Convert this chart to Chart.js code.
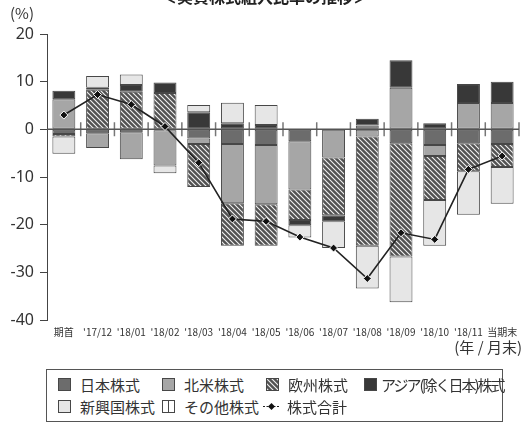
<!DOCTYPE html>
<html>
<head>
<meta charset="utf-8">
<script src="https://cdn.jsdelivr.net/npm/chart.js@4.4.1/dist/chart.umd.min.js"></script>
<style>
  body { margin: 0; background: #fff; font-family: "Noto Sans CJK JP", "Noto Sans", sans-serif; color: #333; }
  #wrap { position: relative; width: 530px; height: 422px; overflow: hidden; }
  #box { position: absolute; left: 0; top: 0; width: 530px; height: 368px; }
  .txt { position: absolute; white-space: nowrap; line-height: 1; }
  #title { left: 0; width: 530px; text-align: center; top: -12px; font-size: 16px; font-weight: bold; color: #222; }
  #unitY { left: 10px; top: 5px; font-size: 15px; }
  #unitX { right: 8px; top: 339px; font-size: 15px; }
  #legend { position: absolute; left: 46px; top: 369px; width: 455px; height: 51px; border: 1px solid #555; }
  .item { position: absolute; display: flex; align-items: center; font-size: 15px; line-height: 1; white-space: nowrap; }
  .item canvas { margin-right: 9px; flex: none; }
</style>
</head>
<body>
<div id="wrap">
  <div id="box"><canvas id="grafico"></canvas></div>
  <div class="txt" id="title">＜実質株式組入比率の推移＞</div>
  <div class="txt" id="unitY">(%)</div>
  <div class="txt" id="unitX">(年 / 月末)</div>
  <div id="legend"></div>
</div>
<script>
const meses = ['期首', "'17/12", "'18/01", "'18/02", "'18/03", "'18/04", "'18/05",
    "'18/06", "'18/07", "'18/08", "'18/09", "'18/10", "'18/11", '当期末'];

const nomes = ['日本株式', '北米株式', '欧州株式', 'アジア(除く日本)株式', '新興国株式', 'その他株式', '株式合計'];

const japao    = [-1.0, -0.8, -0.6, -0.2, -1.9, -3.1, -3.3, -2.5,   0.0,   0.8, -2.9, -3.3, -2.9, -3.1];
const americas = [ 6.3, -3.1, -5.7, -7.4, -1.2, -12.4, -12.4, -10.1, -5.9, -1.5,  8.7, -2.3,  5.5,  5.5];
const europa   = [-0.5,  8.3,  7.9,  7.6, -9.0, -8.9, -8.7, -6.4, -12.1, -22.9, -23.8, -9.2, -5.9, -4.8];
const asia     = [ 1.8,  0.4,  1.4,  2.2,  3.6,  1.3,  0.9, -1.1,  -1.3,   1.4,  5.8,  1.3,  4.0,  4.5];
const emergentes = [-3.6, 2.5,  2.2, -1.6,  1.5,  4.3,  4.2, -2.6,  -5.6,  -9.0, -9.6, -9.6, -9.1, -7.7];
const outros   = [ 0, 0, 0, 0, 0, 0, 0, 0, 0, 0, 0, 0, 0, 0];
const total    = [ 3.0, 7.3, 5.2, 0.6, -7.0, -18.8, -19.3, -22.6, -24.9, -31.3, -21.7, -23.1, -8.4, -5.6];

const ticksY = [20, 10, 0, -10, -20, -30, -40];

// hachura diagonal do 欧州株式
function hachura() {
    const c = document.createElement('canvas');
    c.width = 5; c.height = 5;
    const g = c.getContext('2d');
    g.fillStyle = '#525252';
    g.fillRect(0, 0, 5, 5);
    g.strokeStyle = '#f2f2f2';
    g.lineWidth = 1.1;
    g.beginPath();
    g.moveTo(0, 0); g.lineTo(5, 5);
    g.moveTo(4, -1); g.lineTo(6, 1);
    g.moveTo(-1, 4); g.lineTo(1, 6);
    g.stroke();
    return g.createPattern(c, 'repeat');
}

const padraoEuropa = hachura();
const contorno = '#474747';

function barra(label, dados, cor) {
    return {
        type: 'bar',
        label: label,
        data: dados,
        backgroundColor: cor,
        borderColor: contorno,
        borderWidth: 1,
        borderSkipped: false,
        stack: 'acoes',
        order: 1,
        barPercentage: 0.68,
        categoryPercentage: 1.0
    };
}

const data = {
    labels: meses,
    datasets: [
        barra(nomes[0], japao, '#6c6c6c'),
        barra(nomes[1], americas, '#a6a6a6'),
        barra(nomes[2], europa, padraoEuropa),
        barra(nomes[3], asia, '#383838'),
        barra(nomes[4], emergentes, '#e6e6e6'),
        barra(nomes[5], outros, '#ffffff'),
        {
            type: 'line',
            label: nomes[6],
            data: total,
            stack: 'total',
            order: 0,
            borderColor: '#222',
            borderWidth: 1.6,
            pointStyle: 'rectRot',
            pointRadius: 4,
            pointBackgroundColor: '#111',
            pointBorderColor: '#fff',
            pointBorderWidth: 1,
            tension: 0
        }
    ]
};

// linha do zero com marcas entre as categorias
const linhaZero = {
    id: 'linhaZero',
    beforeDatasetsDraw(chart) {
        const ctx = chart.ctx;
        const area = chart.chartArea;
        const x = chart.scales.x;
        const y0 = chart.scales.y.getPixelForValue(0);
        ctx.save();
        ctx.strokeStyle = '#777';
        ctx.lineWidth = 1.5;
        ctx.beginPath();
        for (let i = 1; i <= meses.length; i++) {
            const px = i < meses.length
                ? (x.getPixelForValue(i - 1) + x.getPixelForValue(i)) / 2
                : area.right;
            ctx.moveTo(px, y0 - 7);
            ctx.lineTo(px, y0 + 7);
        }
        ctx.stroke();
        ctx.strokeStyle = '#555';
        ctx.lineWidth = 1.5;
        ctx.beginPath();
        ctx.moveTo(area.left, y0);
        ctx.lineTo(area.right, y0);
        ctx.stroke();
        ctx.restore();
    }
};

const config = {
    data: data,
    options: {
        responsive: true,
        maintainAspectRatio: false,
        animation: false,
        layout: { padding: { top: 34, right: 11, left: 0, bottom: 0 } },
        plugins: {
            legend: { display: false },
            tooltip: { enabled: false }
        },
        scales: {
            x: {
                stacked: true,
                grid: { display: false },
                border: { display: false },
                ticks: {
                    color: '#333',
                    font: { size: 10, family: '"Noto Sans CJK JP", "Noto Sans"' },
                    autoSkip: false,
                    maxRotation: 0,
                    padding: -2
                },
                afterFit(scale) { scale.height = 48; }
            },
            y: {
                stacked: true,
                min: -40,
                max: 20,
                afterBuildTicks(scale) { scale.ticks = ticksY.map(v => ({ value: v })); },
                grid: { drawOnChartArea: false, drawTicks: true, tickLength: 7, color: '#444', lineWidth: 1 },
                border: { color: '#444', width: 1 },
                ticks: {
                    color: '#333',
                    font: { size: 16, family: '"Noto Sans", "Noto Sans CJK JP"' },
                    padding: 6
                },
                afterFit(scale) { scale.width = 47; }
            }
        }
    },
    plugins: [linhaZero]
};

const grafico = new Chart(document.getElementById('grafico'), config);

// legenda em html, a partir dos datasets
const posicoes = [
    [11, 14], [115, 14], [219, 14], [317, 14],
    [11, 36], [115, 36], [216, 36]
];

function amostra(ds, idx) {
    const c = document.createElement('canvas');
    const g = c.getContext('2d');
    if (idx === 6) {
        c.width = 17; c.height = 13;
        g.strokeStyle = '#222';
        g.lineWidth = 1.2;
        g.setLineDash([2, 1.5]);
        g.beginPath(); g.moveTo(0, 6.5); g.lineTo(17, 6.5); g.stroke();
        g.setLineDash([]);
        g.fillStyle = '#111';
        g.beginPath();
        g.moveTo(8.5, 3); g.lineTo(12, 6.5); g.lineTo(8.5, 10); g.lineTo(5, 6.5);
        g.closePath(); g.fill();
        c.style.marginRight = '7px';
        return c;
    }
    c.width = 13; c.height = 13;
    g.fillStyle = ds.backgroundColor;
    g.fillRect(0, 0, 13, 13);
    g.strokeStyle = contorno;
    g.lineWidth = 1;
    g.strokeRect(0.5, 0.5, 12, 12);
    if (idx === 5) {
        g.beginPath(); g.moveTo(6.5, 0); g.lineTo(6.5, 13); g.stroke();
    }
    return c;
}

const legenda = document.getElementById('legend');
grafico.data.datasets.forEach(function (ds, i) {
    const item = document.createElement('div');
    item.className = 'item';
    item.style.left = posicoes[i][0] + 'px';
    item.style.top = (posicoes[i][1] - 7) + 'px';
    const sw = amostra(ds, i);
    item.appendChild(sw);
    const t = document.createElement('span');
    t.textContent = ds.label;
    if (i === 3) {
        t.style.letterSpacing = '-2px';
        sw.style.marginRight = '4px';
    }
    item.appendChild(t);
    legenda.appendChild(item);
});
</script>
</body>
</html>
